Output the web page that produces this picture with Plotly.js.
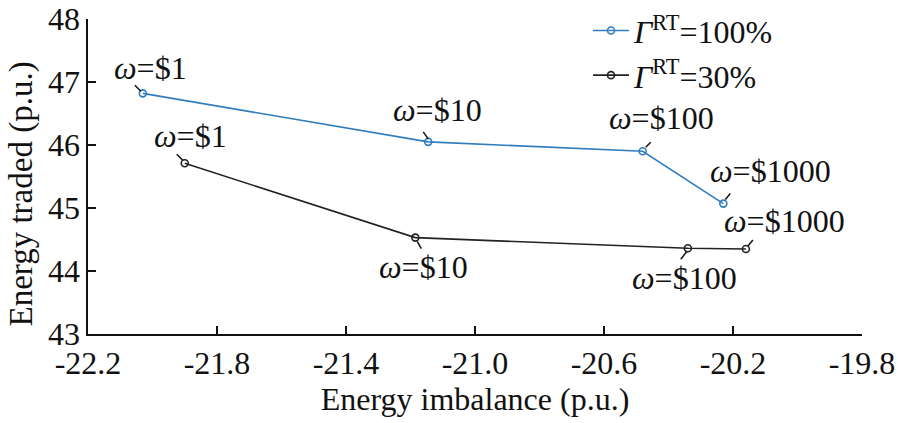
<!DOCTYPE html>
<html>
<head>
<meta charset="utf-8">
<script src="https://cdn.plot.ly/plotly-3.0.1.min.js"></script>
<style>
  html, body { margin: 0; padding: 0; background: #fff; }
  #chart { width: 898px; height: 423px; }
</style>
</head>
<body>
<div id="chart"></div>
<script>
// imbalance (x) and traded energy (y) for each omega, two RT levels
const omegaLabels = ['$1', '$10', '$100', '$1000'];
const imbalanceFull = [-22.03, -21.145, -20.48, -20.23];
const tradedFull = [46.82, 46.05, 45.90, 45.07];
const imbalance30 = [-21.90, -21.185, -20.34, -20.16];
const traded30 = [45.71, 44.53, 44.36, 44.35];

const xTicks = [-22.2, -21.8, -21.4, -21.0, -20.6, -20.2, -19.8];
const xTickText = ['-22.2', '-21.8', '-21.4', '-21.0', '-20.6', '-20.2', '-19.8'];
const yTicks = [43, 44, 45, 46, 47, 48];

const blue = '#2f7cbf';
const dark = '#222222';
const fontFam = 'Times New Roman';
const fs = 32;

const traces = [
  {
    x: imbalanceFull, y: tradedFull,
    name: '<i>Γ</i><sup>RT</sup>=100%',
    mode: 'lines+markers',
    line: { color: blue, width: 1.6 },
    marker: { symbol: 'circle-open', size: 7, color: blue, line: { width: 1.6 } }
  },
  {
    x: imbalance30, y: traded30,
    name: '<i>Γ</i><sup>RT</sup>=30%',
    mode: 'lines+markers',
    line: { color: dark, width: 1.6 },
    marker: { symbol: 'circle-open', size: 7, color: dark, line: { width: 1.6 } }
  }
];

// label offsets (px) and leader line offsets (px), per point
const fullText = [[8, 25], [9, 32], [19, 33], [47, 33]];
const fullLead = [[-8, 8, -2, 2], [-5, 10, 0, 3], [3, 4, 8, 9], [2, 4, 7, 10]];
const lowText = [[6, 27], [8, -29], [-3, -30], [39, 28]];
const lowLead = [[-8, 9, -2, 3], [2, -4, 6, -11], [-1, -3, -7, -11], [2, 3, 7, 9]];

const annotations = [];
const shapes = [];
function addLabels(xs, ys, txt, lead) {
  xs.forEach((x, i) => {
    annotations.push({
      x: x, y: ys[i], xref: 'x', yref: 'y',
      text: '<i>ω</i>=' + omegaLabels[i],
      showarrow: false,
      xshift: txt[i][0], yshift: txt[i][1],
      font: { family: fontFam, size: fs, color: '#111' }
    });
    shapes.push({
      type: 'line', xref: 'x', yref: 'y',
      xsizemode: 'pixel', ysizemode: 'pixel',
      xanchor: x, yanchor: ys[i],
      x0: lead[i][0], y0: lead[i][1], x1: lead[i][2], y1: lead[i][3],
      line: { color: '#111', width: 1.5 }
    });
  });
}
addLabels(imbalanceFull, tradedFull, fullText, fullLead);
addLabels(imbalance30, traded30, lowText, lowLead);

// y title sits a bit below the middle in the original
annotations.push({
  xref: 'paper', yref: 'paper', x: 0, y: 0.5,
  xanchor: 'center', yanchor: 'middle',
  xshift: -67, yshift: -18, textangle: -90,
  text: 'Energy traded (p.u.)', showarrow: false,
  font: { family: fontFam, size: 33, color: '#111' }
});

const layout = {
  width: 898, height: 423,
  margin: { l: 88, r: 36, t: 19, b: 89, autoexpand: false },
  paper_bgcolor: '#fff', plot_bgcolor: '#fff',
  font: { family: fontFam, size: fs, color: '#111' },
  showlegend: true,
  legend: {
    x: 0.646, y: 1.05, xanchor: 'left', yanchor: 'top',
    bgcolor: 'rgba(0,0,0,0)', font: { family: fontFam, size: fs },
    tracegroupgap: 0, itemwidth: 36
  },
  xaxis: {
    range: [-22.2, -19.8], tickvals: xTicks, ticktext: xTickText,
    showgrid: false, zeroline: false, showline: true, linecolor: '#111', linewidth: 1.6,
    ticks: 'inside', ticklen: 8, tickcolor: '#111', tickwidth: 1.4,
    title: { text: 'Energy imbalance (p.u.)', font: { family: fontFam, size: fs }, standoff: 2 },
    tickfont: { family: fontFam, size: fs }
  },
  yaxis: {
    range: [43, 48], tickvals: yTicks,
    showgrid: false, zeroline: false, showline: true, linecolor: '#111', linewidth: 1.6,
    ticks: 'inside', ticklen: 8, tickcolor: '#111', tickwidth: 1.4,
    tickfont: { family: fontFam, size: fs }
  },
  annotations: annotations,
  shapes: shapes
};

Plotly.newPlot('chart', traces, layout, { displayModeBar: false, staticPlot: true });
</script>
</body>
</html>
